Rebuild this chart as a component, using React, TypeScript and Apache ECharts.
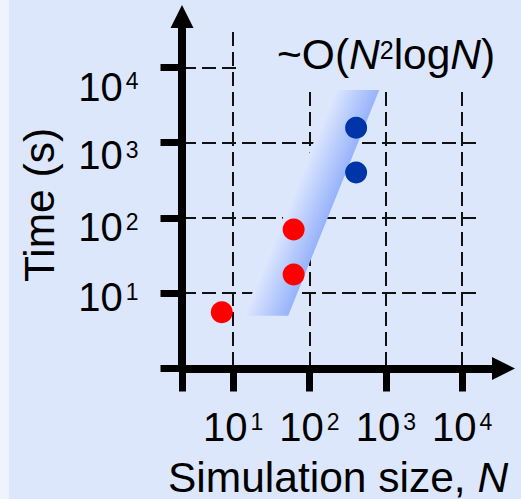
import React, { useEffect, useRef } from 'react';
import * as echarts from 'echarts';

// ---------- data ----------
const redN = [7.1, 62, 62];
const redT = [5.6, 17.7, 70];
const blueN = [408, 408];
const blueT = [400, 1570];
// shaded N^2 logN guide band, corners: bottom-left, bottom-right, top-right, top-left
const bandN = [13.5, 52.6, 819, 215];
const bandT = [5, 5, 5000, 5000];
// decade tick labels (exponents of 10)
const xDecadeExps = [1, 2, 3, 4];
const yDecadeExps = [1, 2, 3, 4];
// axis ranges
const X_MIN = 2.14;
const X_MAX = 1e4;
const Y_MIN = 1;
const Y_MAX = 1e4;

// ---------- style / layout ----------
const W = 521;
const H = 499;
const BG = '#dde7fc';
const STRIP = '#eef3fe';
const FONT = 'Liberation Sans, Arial, Helvetica, sans-serif';
const MAIN_FS = 40;
const SUP_FS = 23;
const TITLE_FS = 42.5;
const TITLE_SUP_FS = 25;
const yLabelShift: Record<number, number> = { 1: 4, 2: 9.3, 3: 12.4, 4: 19.4 };

const isDecade = (v: number, exps: number[]) => {
  const l = Math.log10(v);
  const e = Math.round(l);
  return Math.abs(l - e) < 1e-6 && exps.includes(e) ? e : null;
};

function buildOption() {
  const dash = { color: '#111', width: 2, type: [14, 6] as any };
  const tickStyle = { color: '#000', width: 7 };
  const gridBase = { left: 182, bottom: 130.5, outerBoundsMode: 'none', containLabel: false } as any;

  const yRich: Record<string, any> = {};
  yDecadeExps.forEach((e) => {
    const s = yLabelShift[e] || 0;
    yRich['m' + e] = { fontSize: MAIN_FS, lineHeight: MAIN_FS, fontFamily: FONT, color: '#000', padding: [2 * s, 0, 0, 0] };
    yRich['s' + e] = { fontSize: SUP_FS, lineHeight: SUP_FS, fontFamily: FONT, color: '#000', verticalAlign: 'top', padding: [s + 3, 0, 0, 3] };
  });

  return {
    animation: false,
    backgroundColor: BG,
    textStyle: { fontFamily: FONT },
    grid: [
      { ...gridBase, right: W - 462.2, top: 67.3 }, // main plot
      { ...gridBase, right: W - 478.3, top: 67.3 }, // horizontal dashed lines
      { ...gridBase, right: W - 462.2, top: 32 }, // vertical dashed lines
      { ...gridBase, right: 17.5, top: 16.5 }, // axis lines with arrows
    ],
    xAxis: [
      {
        type: 'log', logBase: 10, gridIndex: 0, min: X_MIN, max: X_MAX,
        axisLine: { show: false },
        axisTick: { show: true, inside: false, length: 23, lineStyle: tickStyle },
        minorTick: { show: false },
        splitLine: { show: false },
        axisLabel: {
          show: true, margin: 38.5, showMinLabel: true, showMaxLabel: true, hideOverlap: false,
          formatter: (v: number) => {
            const e = isDecade(v, xDecadeExps);
            return e === null ? '' : `{m|10}{s|${e}}`;
          },
          rich: {
            m: { fontSize: MAIN_FS, lineHeight: MAIN_FS, fontFamily: FONT, color: '#000' },
            s: { fontSize: SUP_FS, lineHeight: SUP_FS, fontFamily: FONT, color: '#000', verticalAlign: 'top', padding: [3, 0, 0, 3] },
          },
        },
      },
      { type: 'value', gridIndex: 1, show: false, min: 0, max: 1 },
      {
        type: 'log', logBase: 10, gridIndex: 2, min: X_MIN, max: X_MAX,
        axisLine: { show: false }, axisTick: { show: false }, axisLabel: { show: false },
        minorTick: { show: false },
        splitLine: { show: true, lineStyle: dash },
      },
      {
        type: 'value', gridIndex: 3, min: 0, max: 1,
        axisLine: { show: true, symbol: ['none', 'triangle'], symbolSize: [23, 23], lineStyle: { color: '#000', width: 8 } },
        axisTick: { show: false }, axisLabel: { show: false }, splitLine: { show: false },
      },
    ],
    yAxis: [
      {
        type: 'log', logBase: 10, gridIndex: 0, min: Y_MIN, max: Y_MAX,
        axisLine: { show: false },
        axisTick: { show: true, inside: false, length: 21.5, lineStyle: tickStyle },
        minorTick: { show: false },
        splitLine: { show: false },
        axisLabel: {
          show: true, margin: 43.5, align: 'right', showMinLabel: true, showMaxLabel: true, hideOverlap: false,
          formatter: (v: number) => {
            const e = isDecade(v, yDecadeExps);
            return e === null ? '' : `{m${e}|10}{s${e}|${e}}`;
          },
          rich: yRich,
        },
      },
      {
        type: 'log', logBase: 10, gridIndex: 1, min: Y_MIN, max: Y_MAX,
        axisLine: { show: false }, axisTick: { show: false }, axisLabel: { show: false },
        minorTick: { show: false },
        splitLine: { show: true, lineStyle: dash },
      },
      { type: 'value', gridIndex: 2, show: false, min: 0, max: 1 },
      {
        type: 'value', gridIndex: 3, min: 0, max: 1,
        axisLine: { show: true, symbol: ['none', 'triangle'], symbolSize: [23, 23], lineStyle: { color: '#000', width: 8 } },
        axisTick: { show: false }, axisLabel: { show: false }, splitLine: { show: false },
      },
    ],
    series: [
      {
        type: 'custom',
        name: 'N^2 logN guide',
        xAxisIndex: 0, yAxisIndex: 0,
        silent: true,
        data: bandN.map((n, i) => [n, bandT[i]]),
        renderItem: (params: any, api: any) => {
          if (params.dataIndex !== 0) return null;
          const pts = bandN.map((n, i) => api.coord([n, bandT[i]]));
          const [p0, p1, , p3] = pts;
          let dx = p3[0] - p0[0];
          let dy = p3[1] - p0[1];
          const len = Math.hypot(dx, dy) || 1;
          dx /= len; dy /= len;
          const nx = -dy, ny = dx;
          const w = (p1[0] - p0[0]) * nx + (p1[1] - p0[1]) * ny;
          const mx = (p0[0] + p3[0]) / 2, my = (p0[1] + p3[1]) / 2;
          return {
            type: 'polygon',
            shape: { points: pts },
            style: {
              fill: {
                type: 'linear', global: true,
                x: mx, y: my, x2: mx + nx * w, y2: my + ny * w,
                colorStops: [
                  { offset: 0, color: 'rgba(223,232,253,1)' },
                  { offset: 1, color: 'rgb(150,178,251)' },
                ],
              },
            },
          };
        },
      },
      {
        type: 'scatter', name: 'red', xAxisIndex: 0, yAxisIndex: 0,
        symbolSize: 22, itemStyle: { color: '#ff0000', opacity: 1 },
        data: redN.map((n, i) => [n, redT[i]]),
      },
      {
        type: 'scatter', name: 'blue', xAxisIndex: 0, yAxisIndex: 0,
        symbolSize: 22, itemStyle: { color: '#0035a9', opacity: 1 },
        data: blueN.map((n, i) => [n, blueT[i]]),
      },
    ],
    graphic: [
      { type: 'rect', silent: true, z: 0, shape: { x: 0, y: 0, width: 9, height: H }, style: { fill: STRIP } },
      { type: 'rect', silent: true, z: 5, shape: { x: 237.5, y: 0, width: W - 237.5, height: 89.5 }, style: { fill: BG } },
      {
        type: 'text', z: 6, x: 277, y: 54,
        style: {
          text: '{n|~O(}{i|N}{s|2}{n|log}{i|N}{n|)}',
          align: 'left', verticalAlign: 'middle', fill: '#000', fontFamily: FONT, fontSize: TITLE_FS,
          rich: {
            n: { fontSize: TITLE_FS, lineHeight: TITLE_FS, fontFamily: FONT, fill: '#000' },
            i: { fontSize: TITLE_FS, lineHeight: TITLE_FS, fontFamily: FONT, fontStyle: 'italic', fill: '#000' },
            s: { fontSize: TITLE_SUP_FS, lineHeight: TITLE_SUP_FS, fontFamily: FONT, fill: '#000', verticalAlign: 'top', padding: [5, 0, 0, 0] },
          },
        },
      },
      {
        type: 'text', z: 6, x: 39, y: 205, rotation: Math.PI / 2,
        style: { text: 'Time (s)', align: 'center', verticalAlign: 'middle', fill: '#000', fontFamily: FONT, fontSize: TITLE_FS },
      },
      {
        type: 'text', z: 6, x: 168, y: 477,
        style: {
          text: '{a|Simulation size, }{i|N}',
          align: 'left', verticalAlign: 'middle', fill: '#000', fontFamily: FONT, fontSize: TITLE_FS,
          rich: {
            a: { fontSize: TITLE_FS, lineHeight: TITLE_FS, fontFamily: FONT, fill: '#000' },
            i: { fontSize: TITLE_FS, lineHeight: TITLE_FS, fontFamily: FONT, fontStyle: 'italic', fill: '#000' },
          },
        },
      },
    ],
  };
}

export default function App() {
  const ref = useRef<HTMLDivElement>(null);
  useEffect(() => {
    if (!ref.current) return;
    const chart = echarts.init(ref.current, null, { renderer: 'svg' });
    chart.setOption(buildOption() as any);
    return () => chart.dispose();
  }, []);
  return (
    <div
      ref={ref}
      style={{ position: 'absolute', left: 0, top: 0, width: W, height: H, background: BG }}
    />
  );
}
